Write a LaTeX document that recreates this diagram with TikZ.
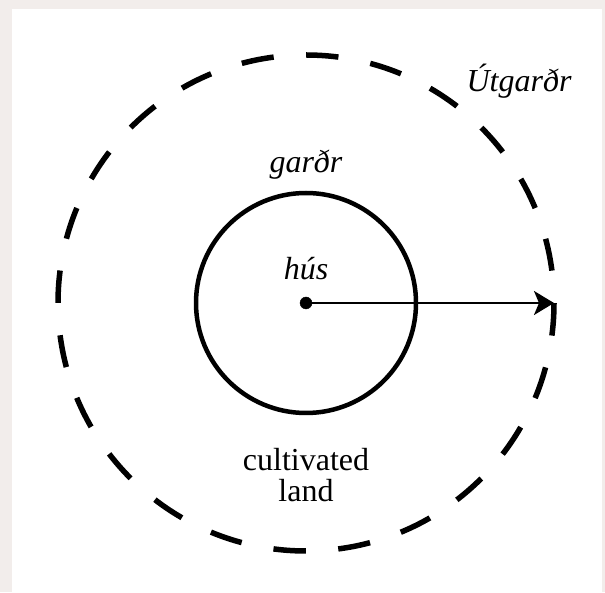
\documentclass[tikz,border=0pt]{standalone}
\usepackage{fontspec}
\setmainfont{Liberation Serif}
\usetikzlibrary{arrows.meta}
\definecolor{bgpink}{RGB}{242,237,235}
\tikzset{
  ring/.style={circle, draw, inner sep=0pt, outer sep=0pt},
  lbl/.style={font=\fontsize{32}{31}\selectfont\itshape, inner sep=0pt, anchor=base},
  plainlbl/.style={font=\fontsize{32}{31}\selectfont, inner sep=0pt, align=center, anchor=base}
}
\begin{document}
\begin{tikzpicture}[x=1pt,y=1pt]
	\pgfmathsetmacro{\dsh}{pi*248/24}
	\fill [bgpink] (0,0) rectangle (605,592);
	\fill [white] (12,0) rectangle (602,583);
	\coordinate (hus) at (306,289);
	\node [ring, line width=5.5pt, minimum size=496pt, dash pattern=on \dsh pt off \dsh pt, dash phase=\dsh pt] (utgard) at (hus) {};
	\node [ring, line width=4.5pt, minimum size=220pt] (gard) at (hus) {};
	\filldraw (hus) circle (6pt);
	\draw [line width=2.2pt, -{Stealth[length=20pt, width=24pt, inset=5pt]}] (hus) -- (utgard.east);
	\node [lbl] (utgardlbl) at (519,500) {Útgarðr};
	\node [lbl] (gardlbl) at (306,419) {garðr};
	\node [lbl] (huslbl) at (306,312) {hús};
	\node [plainlbl] (landlbl) at (306,91) {cultivated\\land};
\end{tikzpicture}
\end{document}
